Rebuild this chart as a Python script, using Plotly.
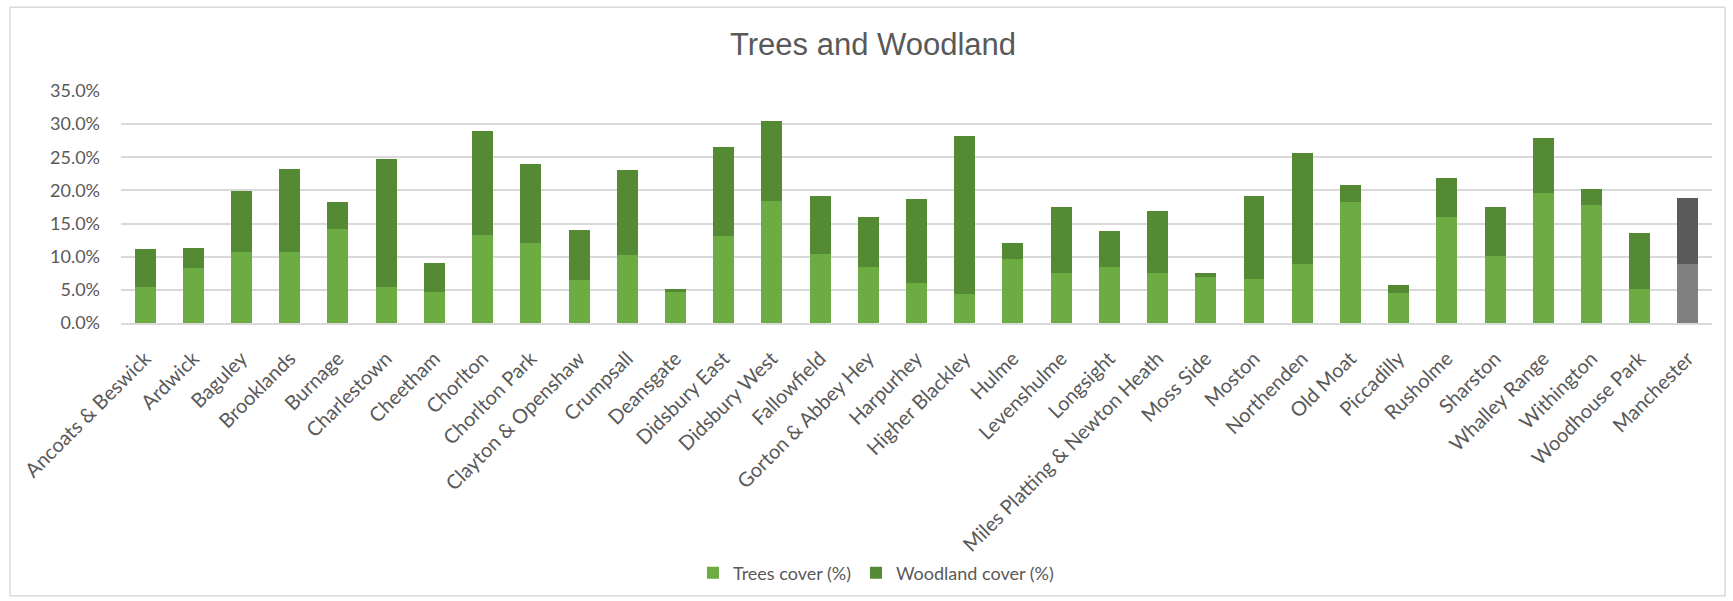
import plotly.graph_objects as go

# Ward names along the category axis (city-wide figure last)
wards = [
    "Ancoats & Beswick", "Ardwick", "Baguley", "Brooklands", "Burnage",
    "Charlestown", "Cheetham", "Chorlton", "Chorlton Park", "Clayton & Openshaw",
    "Crumpsall", "Deansgate", "Didsbury East", "Didsbury West", "Fallowfield",
    "Gorton & Abbey Hey", "Harpurhey", "Higher Blackley", "Hulme", "Levenshulme",
    "Longsight", "Miles Platting & Newton Heath", "Moss Side", "Moston", "Northenden",
    "Old Moat", "Piccadilly", "Rusholme", "Sharston", "Whalley Range",
    "Withington", "Woodhouse Park", "Manchester",
]

# Tree canopy cover outside woodland (%)
trees_cover = [
    5.5, 8.35, 10.7, 10.7, 14.25,
    5.45, 4.7, 13.35, 12.0, 6.5,
    10.3, 4.7, 13.1, 18.35, 10.35,
    8.45, 6.1, 4.35, 9.7, 7.6,
    8.45, 7.6, 7.0, 6.7, 8.85,
    18.2, 4.5, 15.95, 10.1, 19.6,
    17.85, 5.2, 8.95,
]

# Woodland cover (%)
woodland_cover = [
    5.6, 2.9, 9.25, 12.55, 4.0,
    19.25, 4.4, 15.6, 11.95, 7.55,
    12.8, 0.5, 13.5, 12.1, 8.75,
    7.5, 12.55, 23.85, 2.35, 9.85,
    5.45, 9.25, 0.5, 12.4, 16.85,
    2.6, 1.3, 6.0, 7.35, 8.3,
    2.35, 8.35, 9.95,
]

y_ticks = [0, 5, 10, 15, 20, 25, 30, 35]

TREES_GREEN = "#6DAB43"
WOOD_GREEN = "#548A33"
CITY_LIGHT = "#808080"
CITY_DARK = "#5A5A5A"
TEXT_GREY = "#595959"
GRID_GREY = "#D9D9D9"
FONT = "Lato, 'Open Sans', sans-serif"

n = len(wards)
trees_colors = [TREES_GREEN] * (n - 1) + [CITY_LIGHT]
wood_colors = [WOOD_GREEN] * (n - 1) + [CITY_DARK]

fig = go.Figure()
fig.add_trace(go.Bar(
    x=wards, y=trees_cover, name="Trees cover (%)",
    marker=dict(color=trees_colors, line=dict(width=0)),
))
fig.add_trace(go.Bar(
    x=wards, y=woodland_cover, name="Woodland cover (%)",
    marker=dict(color=wood_colors, line=dict(width=0)),
))

# plot-area geometry in pixels
W, H = 1733, 601
L, R, T, B = 121, 21, 91, 277
pw, ph = W - L - R, H - T - B


def px_x(p):
    return (p - L) / pw


def px_y(p):
    return (H - B - p) / ph


fig.update_layout(
    width=W, height=H,
    barmode="stack",
    bargap=0.565,
    paper_bgcolor="white",
    plot_bgcolor="white",
    margin=dict(l=L, r=R, t=T, b=B, pad=0),
    font=dict(family=FONT, size=18, color=TEXT_GREY),
    title=dict(
        text="Trees and Woodland",
        font=dict(family="'Liberation Sans', Arial, sans-serif", size=31, color=TEXT_GREY),
        x=873 / W, xref="container", xanchor="center",
        y=1 - 44 / H, yref="container", yanchor="middle",
    ),
    showlegend=True,
    legend=dict(
        orientation="h",
        x=px_x(876), xanchor="center",
        y=px_y(573), yanchor="middle",
        font=dict(family=FONT, size=18, color=TEXT_GREY),
        itemwidth=30,
        traceorder="normal",
    ),
    xaxis=dict(
        tickangle=-45,
        tickfont=dict(family=FONT, size=20, color=TEXT_GREY),
        showgrid=False,
        showline=True, linecolor=GRID_GREY, linewidth=2,
        ticks="", ticklabelstandoff=14,
    ),
    yaxis=dict(
        range=[0, 35],
        tickvals=y_ticks,
        ticktext=[f"{v:.1f}%" for v in y_ticks],
        tickfont=dict(family=FONT, size=18, color=TEXT_GREY),
        showgrid=True, gridcolor=GRID_GREY, gridwidth=2,
        zeroline=False, showline=False,
        ticks="", ticklabelstandoff=20,
    ),
    shapes=[dict(
        type="rect", xref="paper", yref="paper",
        x0=px_x(10), x1=px_x(1725), y0=px_y(598), y1=px_y(7),
        line=dict(color="#D9D9D9", width=1.5),
        fillcolor="rgba(0,0,0,0)",
        layer="below",
    )],
)

fig.write_html("out.html")
